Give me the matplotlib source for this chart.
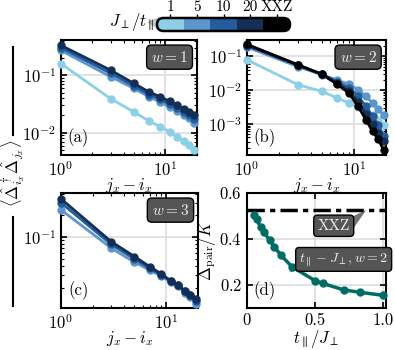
import numpy as np
import matplotlib
matplotlib.use("Agg")
import matplotlib.pyplot as plt
from matplotlib.patches import FancyBboxPatch, Rectangle, Polygon
from matplotlib.lines import Line2D
from matplotlib.ticker import NullFormatter

plt.rcParams['font.family'] = 'serif'
plt.rcParams['font.serif'] = ['cmr10']
plt.rcParams['mathtext.fontset'] = 'cm'
plt.rcParams['axes.formatter.use_mathtext'] = True
plt.rcParams['font.size'] = 12

# distances j_x - i_x
dist = [1, 3, 5, 7, 9, 11, 13, 15, 17, 19]

# colour scale J_perp / t_par
cb_labels = ['1', '5', '10', '20', 'XXZ']
cb_colors = ['#8ccfe6', '#5b97cc', '#245c9c', '#132f57', '#000000']

# (a) w = 1
a_J1 = [0.159, 0.039, 0.023, 0.016, 0.0127, 0.0104, 0.0085, 0.0072, 0.0062, 0.0050]
a_J5 = [0.27, 0.094, 0.059, 0.042, 0.034, 0.028, 0.024, 0.020, 0.0178, 0.015]
a_J10 = [0.30, 0.108, 0.065, 0.046, 0.038, 0.031, 0.027, 0.023, 0.020, 0.017]
a_J20 = [0.33, 0.122, 0.072, 0.051, 0.042, 0.035, 0.030, 0.026, 0.0225, 0.020]

# (b) w = 2
b_J1 = [0.080, 0.0146, 0.0093, 0.0059, 0.0042, 0.0031, 0.0024, 0.0018, 0.00134, 0.00096]
b_J5 = [0.19, 0.050, 0.029, 0.020, 0.015, 0.0104, 0.0066, 0.0042, 0.0028, 0.0018]
b_J10 = [0.21, 0.055, 0.030, 0.018, 0.0116, 0.0066, 0.0033, 0.0017, 0.00095, 0.00043]
b_J20 = [0.22, 0.056, 0.030, 0.016, 0.0095, 0.0045, 0.0020, 0.0010, 0.00055, 0.00031]
b_XXZ = [0.23, 0.057, 0.030, 0.015, 0.0083, 0.0033, 0.00134, 0.0006, 0.00035, 0.00017]

# (c) w = 3
c_J5 = [0.24, 0.071, 0.045, 0.035, 0.029, 0.024, 0.021, 0.017, 0.015, 0.012]
c_J10 = [0.30, 0.080, 0.050, 0.037, 0.030, 0.025, 0.022, 0.018, 0.016, 0.013]
c_J20 = [0.34, 0.087, 0.054, 0.039, 0.031, 0.025, 0.022, 0.018, 0.016, 0.014]

# (d) pair gap
t_over_J = [0.05, 0.0714, 0.1, 0.125, 0.167, 0.2, 0.25, 0.333, 0.5, 0.556, 0.714, 0.833, 1.0]
gap = [0.505, 0.485, 0.452, 0.428, 0.395, 0.366, 0.329, 0.278, 0.219, 0.207, 0.178, 0.168, 0.155]
gap_xxz = 0.525

teal = '#006d64'
W, H = 395, 350

fig = plt.figure(figsize=(3.95, 3.5), dpi=100)
ax_a = fig.add_axes([0.154, 0.557, 0.344, 0.329])
ax_b = fig.add_axes([0.625, 0.557, 0.352, 0.329])
ax_c = fig.add_axes([0.154, 0.120, 0.347, 0.329])
ax_d = fig.add_axes([0.625, 0.120, 0.352, 0.329])


def style(ax):
    for s in ax.spines.values():
        s.set_linewidth(1.5)
    ax.tick_params(which='both', direction='in', top=True, right=True, labelsize=12)
    ax.tick_params(which='major', length=4, width=1.2)
    ax.tick_params(which='minor', length=2, width=0.8)
    ax.grid(True, which='major', color='#dddddd', lw=1.2)
    ax.set_axisbelow(True)


def wbox(ax, txt, x, y):
    ax.text(x, y, txt, transform=ax.transAxes, ha='center', va='center',
            color='#eeeeee', fontsize=11,
            bbox=dict(boxstyle='round,pad=0.3', fc='#555555', ec='black', lw=1))


for ax, series, ylim, w, lab in [
        (ax_a, [(a_J1, 0), (a_J5, 1), (a_J10, 2), (a_J20, 3)], (0.0041, 0.41), 1, '(a)'),
        (ax_b, [(b_J1, 0), (b_J5, 1), (b_J10, 2), (b_J20, 3), (b_XXZ, 4)], (1.2e-4, 0.31), 2, '(b)'),
        (ax_c, [(c_J5, 1), (c_J10, 2), (c_J20, 3)], (0.0105, 0.41), 3, '(c)')]:
    for vals, ci in series:
        ax.plot(dist, vals, '-o', color=cb_colors[ci], lw=2, ms=5, clip_on=False, zorder=3)
    ax.set_xscale('log')
    ax.set_yscale('log')
    ax.set_xlim(1, 20)
    ax.set_ylim(*ylim)
    ax.xaxis.set_minor_formatter(NullFormatter())
    ax.yaxis.set_minor_formatter(NullFormatter())
    ax.set_xlabel(r'$j_x - i_x$', fontsize=12, labelpad=-2)
    style(ax)
    wbox(ax, r'$w = %d$' % w, 0.8, 0.85)
    ax.text(0.13, 0.15, lab, transform=ax.transAxes, ha='center', va='center', fontsize=12)

# (d)
ax_d.axhline(gap_xxz, color='black', lw=2.5, ls=(0, (5, 1.5, 1.5, 1.5)), zorder=2)
ax_d.plot(t_over_J, gap, '-o', color=teal, lw=2.5, ms=5, clip_on=False, zorder=3)
ax_d.set_xlim(0, 1.02)
ax_d.set_ylim(0.1, 0.6)
ax_d.set_xticks([0, 0.5, 1.0])
ax_d.set_xticklabels(['0', '0.5', '1.0'])
ax_d.set_yticks([0.2, 0.4, 0.6])
ax_d.set_xlabel(r'$t_\parallel/J_\perp$', fontsize=12, labelpad=0)
ax_d.set_ylabel(r'$\Delta_{\rm pair}/K$', fontsize=12, labelpad=1)
style(ax_d)
ax_d.text(0.13, 0.15, '(d)', transform=ax_d.transAxes, ha='center', va='center', fontsize=12)

# wedges pointing from the boxes
ax_d.add_patch(Polygon([(0.755, 0.492), (0.775, 0.44), (0.875, gap_xxz)], closed=True,
                       fc='#444444', ec='none', alpha=0.75, zorder=4))
ax_d.add_patch(Polygon([(0.46, 0.33), (0.46, 0.27), (0.31, 0.256)], closed=True,
                       fc=teal, ec='none', alpha=0.75, zorder=4))
ax_d.text(0.637, 0.457, 'XXZ', ha='center', va='center', color='#eeeeee', fontsize=11, zorder=5,
          bbox=dict(boxstyle='round,pad=0.25', fc='#555555', ec='black', lw=1))
ax_d.text(0.71, 0.311, r'$t_\parallel - J_\perp, w = 2$', ha='center', va='center',
          color='#eeeeee', fontsize=10, zorder=5,
          bbox=dict(boxstyle='round,pad=0.25', fc='#555555', ec='black', lw=1))

# common y label with bars
fig.text(0.032, 1 - 173 / H, r'$\langle\hat{\Delta}^\dagger_{i_x}\hat{\Delta}_{j_x}\rangle$',
         rotation=90, ha='center', va='center', fontsize=12)
fig.add_artist(Line2D([0.034, 0.034], [1 - 47 / H, 1 - 135 / H], color='black', lw=1.5))
fig.add_artist(Line2D([0.034, 0.034], [1 - 217 / H, 1 - 306 / H], color='black', lw=1.5))

# colour bar
ax_cb = fig.add_axes([157 / W, 1 - 31 / H, 133 / W, 13 / H])
ax_cb.set_xlim(0, 5)
ax_cb.set_ylim(0, 1)
px_x = 133 / 5   # pixels per x unit
px_y = 13.0      # pixels per y unit
rs = 0.5 * px_y / px_x
asp = 0.5 / rs
clip = FancyBboxPatch((0, 0), 5, 1, boxstyle='round,pad=0,rounding_size=%g' % rs,
                      mutation_aspect=asp, fc='none', ec='none')
ax_cb.add_patch(clip)
for i, c in enumerate(cb_colors):
    r = Rectangle((i, 0), 1, 1, fc=c, ec='none')
    ax_cb.add_patch(r)
    r.set_clip_path(clip)
border = FancyBboxPatch((0, 0), 5, 1, boxstyle='round,pad=0,rounding_size=%g' % rs,
                        mutation_aspect=asp, fc='none', ec='black', lw=1.8, clip_on=False)
ax_cb.add_patch(border)
ax_cb.set_xticks([0.5, 1.5, 2.5, 3.5, 4.5])
ax_cb.set_xticklabels(cb_labels)
ax_cb.set_yticks([])
ax_cb.xaxis.tick_top()
ax_cb.tick_params(axis='x', length=3, width=1, pad=0, labelsize=11)
for s in ax_cb.spines.values():
    s.set_visible(False)
fig.text(132 / W, 1 - 22 / H, r'$J_\perp/t_\parallel$', ha='center', va='center', fontsize=12)
fig.add_artist(Polygon([(147 / W, 1 - 22 / H), (159 / W, 1 - 17 / H), (159 / W, 1 - 30 / H)],
                       closed=True, fc='#c8c8c8', ec='none', transform=fig.transFigure,
                       zorder=0))

fig.savefig('out.png', dpi=100)
